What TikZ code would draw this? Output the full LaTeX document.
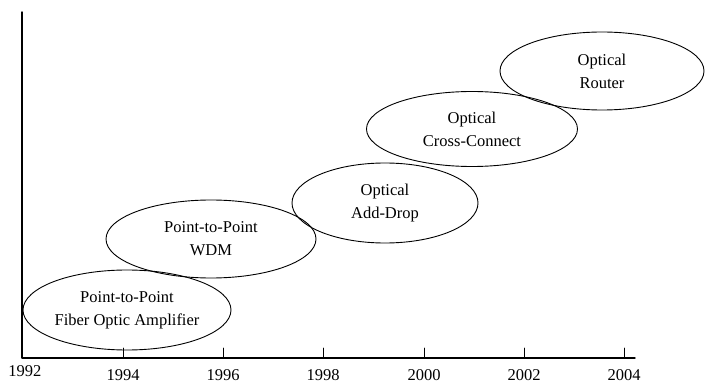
\documentclass[tikz,border=0pt]{standalone}
\usepackage{fontspec}
\setmainfont{Liberation Serif}
\usetikzlibrary{shapes.geometric}

\begin{document}
\begin{tikzpicture}[line cap=round, line join=round, x=1pt, y=-1pt,
    stage/.style={draw, ellipse, inner sep=0pt, align=center, line width=0.9pt,
      font=\fontsize{16.5}{23}\selectfont},
    year/.style={anchor=base, inner sep=0pt, font=\fontsize{16.5}{20}\selectfont}]
    \useasboundingbox (0,0) rectangle (705,385);
    % axes
    \coordinate (top) at (22,12);
    \coordinate (o) at (22,358);
    \coordinate (end) at (635,358);
    \draw[line width=1.4pt] (top) -- (o) -- (end);
    \node[year] (y1992) at (25,376) {1992};
    \foreach \x/\yr in {123/1994, 223/1996, 323/1998, 424/2000, 524/2002, 624/2004} {
        \coordinate (t\yr) at (\x,358);
        \draw[line width=0.9pt] (t\yr) -- ++(0,-10);
        \node[year] (y\yr) at (\x,380) {\yr};
    }
    % technology stages
    \node[stage, minimum width=208, minimum height=80] (amp) at (127,310) {Point-to-Point\\Fiber Optic Amplifier};
    \node[stage, minimum width=210, minimum height=78] (wdm) at (211,239) {Point-to-Point\\WDM};
    \node[stage, minimum width=186, minimum height=80] (oadm) at (385,203) {Optical\\Add-Drop};
    \node[stage, minimum width=211, minimum height=75] (oxc) at (472,129) {Optical\\Cross-Connect};
    \node[stage, minimum width=204, minimum height=78] (router) at (602,71) {Optical\\Router};
\end{tikzpicture}
\end{document}
